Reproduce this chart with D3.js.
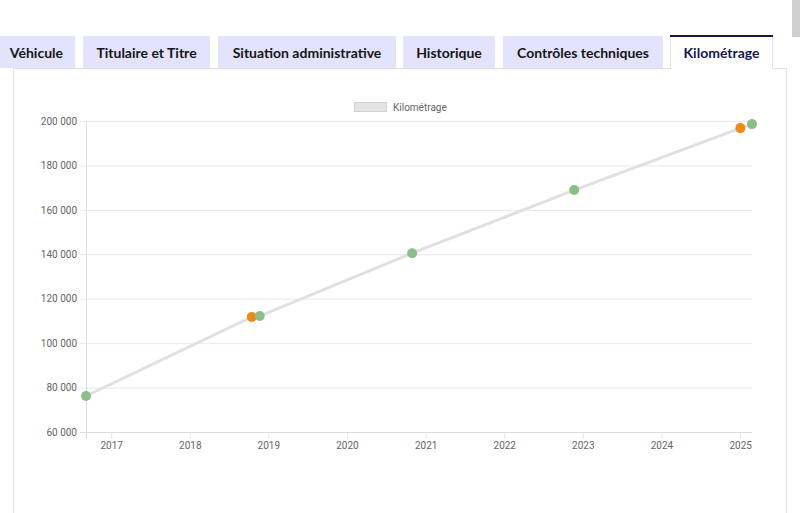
<!DOCTYPE html>
<html>
<head>
<meta charset="utf-8">
<script src="https://cdn.jsdelivr.net/npm/d3@7/dist/d3.min.js"></script>
<style>
  html, body { margin: 0; padding: 0; background: #fff; }
  svg { display: block; }
</style>
</head>
<body>
<svg id="chart" width="800" height="513"></svg>
<script>
// ---- data ----
const tabLabels = ["Véhicule", "Titulaire et Titre", "Situation administrative", "Historique", "Contrôles techniques", "Kilométrage"];
const selectedTab = "Kilométrage";
const seriesName = "Kilométrage";
const readingDates = ["2016-09-06", "2018-10-16", "2018-11-22", "2020-10-30", "2022-11-22", "2025-01-02", "2025-02-25"];
const readingKm = [76200, 111800, 112200, 140500, 168900, 196800, 198600];
const readingStatus = ["ok", "contre", "ok", "ok", "ok", "contre", "ok"];
const yTicks = [60000, 80000, 100000, 120000, 140000, 160000, 180000, 200000];
const xTickYears = [2017, 2018, 2019, 2020, 2021, 2022, 2023, 2024, 2025];

// ---- layout / style ----
const tabEdges = [[-40, 75], [83, 210], [218, 396], [403, 495], [503, 663], [670, 773]];
const tabTop = 36, tabBottom = 68;
const plot = { left: 86, right: 752, top: 121, bottom: 432 };
const statusColor = d3.scaleOrdinal().domain(["ok", "contre"]).range(["#8dbd88", "#f08a14"]);
const font = "Roboto, 'Liberation Sans', sans-serif";

const svg = d3.select("#chart");
svg.append("rect").attr("width", 800).attr("height", 513).attr("fill", "#fff");

// scrollbar thumb
svg.append("rect").attr("x", 792).attr("y", 0).attr("width", 8).attr("height", 37).attr("fill", "#cfcfcf");

// panel
svg.append("rect")
  .attr("x", 13.5).attr("y", tabBottom + 0.5).attr("width", 773).attr("height", 470)
  .attr("fill", "#fff").attr("stroke", "#e2e2e2");

// tabs
const tabs = svg.append("g");
tabLabels.forEach((label, i) => {
  const [x0, x1] = tabEdges[i];
  const sel = label === selectedTab;
  const g = tabs.append("g");
  if (sel) {
    g.append("rect").attr("x", x0).attr("y", tabTop).attr("width", x1 - x0).attr("height", tabBottom - tabTop + 1)
      .attr("fill", "#fff");
    g.append("path").attr("d", `M${x0 + 0.5},${tabBottom + 1}V${tabTop}M${x1 - 0.5},${tabTop}V${tabBottom + 1}`)
      .attr("stroke", "#e2e2e2").attr("fill", "none");
    g.append("rect").attr("x", x0).attr("y", tabTop - 1).attr("width", x1 - x0).attr("height", 2)
      .attr("fill", "#161650");
  } else {
    g.append("rect").attr("x", x0).attr("y", tabTop).attr("width", x1 - x0).attr("height", tabBottom - tabTop)
      .attr("fill", "#e3e3fd");
  }
  const partial = x0 < 0;
  g.append("text")
    .attr("x", partial ? x1 - 12 : (x0 + x1) / 2).attr("y", 52)
    .attr("text-anchor", partial ? "end" : "middle").attr("dominant-baseline", "central")
    .attr("font-family", "Lato, 'Open Sans', sans-serif").attr("font-weight", 700).attr("font-size", 14)
    .attr("fill", sel ? "#161650" : "#161616")
    .text(label);
});

// scales
const parse = d3.timeParse("%Y-%m-%d");
const data = readingDates.map((d, i) => ({ date: parse(d), km: readingKm[i], status: readingStatus[i] }));
const x = d3.scaleTime().domain(d3.extent(data, d => d.date)).range([plot.left, plot.right]);
const y = d3.scaleLinear().domain([d3.min(yTicks), d3.max(yTicks)]).range([plot.bottom, plot.top]);
const fmt = v => d3.format(",")(v).replace(/,/g, " ");

// horizontal grid + y axis
const yAxis = d3.axisLeft(y).tickValues(yTicks).tickFormat(fmt)
  .tickSize(-(plot.right - plot.left)).tickPadding(0);
const gy = svg.append("g").attr("transform", `translate(${plot.left},0)`).call(yAxis);
gy.select(".domain").remove();
gy.selectAll(".tick line").attr("stroke", "#e8e8e8").attr("x1", -6);
gy.selectAll(".tick text").attr("x", -9).attr("fill", "#666").attr("font-family", font).attr("font-size", 10);

// vertical grid + x axis
const xTicks = xTickYears.map(yr => new Date(yr, 0, 1));
const xAxis = d3.axisBottom(x).tickValues(xTicks).tickFormat(d3.timeFormat("%Y"))
  .tickSize(-(plot.bottom - plot.top)).tickPadding(0);
const gx = svg.append("g").attr("transform", `translate(0,${plot.bottom})`).call(xAxis);
gx.select(".domain").remove();
gx.selectAll(".tick line").attr("stroke", "#e8e8e8").attr("y2", 7);
gx.selectAll(".tick text").attr("y", 10).attr("dy", "0.71em").attr("fill", "#666").attr("font-family", font).attr("font-size", 10);

// axis borders
svg.append("line").attr("x1", plot.left + 0.5).attr("x2", plot.left + 0.5).attr("y1", plot.top).attr("y2", plot.bottom + 7)
  .attr("stroke", "#dcdcdc");
svg.append("line").attr("x1", plot.left - 6).attr("x2", plot.right).attr("y1", plot.bottom + 0.5).attr("y2", plot.bottom + 0.5)
  .attr("stroke", "#dcdcdc");

// line
svg.append("path").datum(data)
  .attr("d", d3.line().x(d => x(d.date)).y(d => y(d.km)))
  .attr("fill", "none").attr("stroke", "#e0e0e0").attr("stroke-width", 3);

// points
svg.append("g").selectAll("circle").data(data).join("circle")
  .attr("cx", d => x(d.date)).attr("cy", d => y(d.km)).attr("r", 5)
  .attr("fill", d => statusColor(d.status));

// legend
const lg = svg.append("g");
lg.append("rect").attr("x", 354.5).attr("y", 102.5).attr("width", 32).attr("height", 9)
  .attr("fill", "#e3e3e3").attr("stroke", "#d2d2d2");
lg.append("text").attr("x", 393).attr("y", 107).attr("dominant-baseline", "central")
  .attr("font-family", font).attr("font-size", 10).attr("fill", "#666").text(seriesName);
</script>
</body>
</html>
